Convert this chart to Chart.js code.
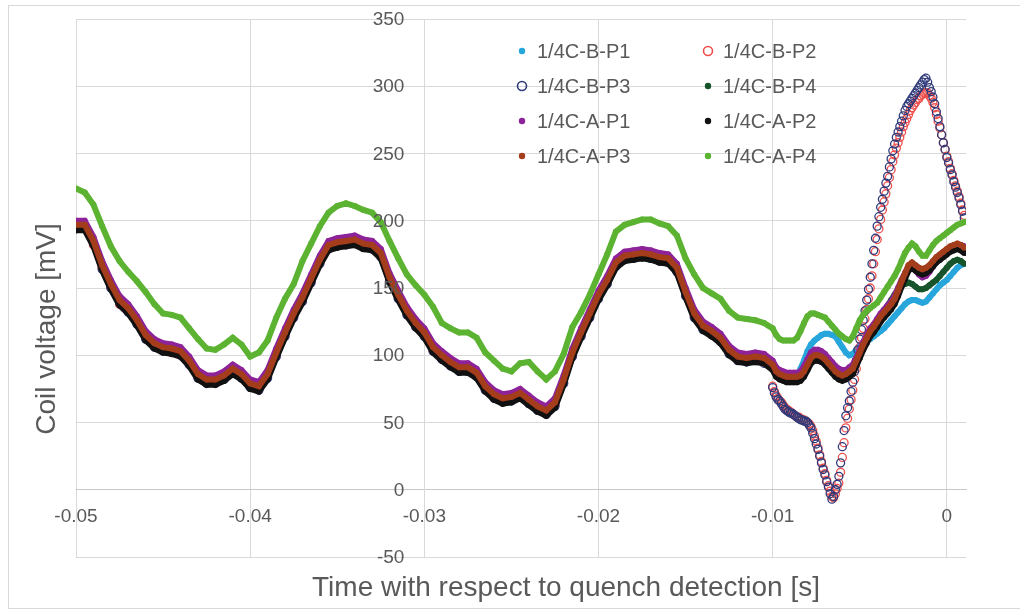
<!DOCTYPE html>
<html>
<head>
<meta charset="utf-8">
<title>Coil voltage</title>
<script src="https://cdn.jsdelivr.net/npm/chart.js@4.4.1/dist/chart.umd.min.js"></script>
<style>
  html, body { margin: 0; padding: 0; background: #fff; }
  #wrap { position: relative; width: 1020px; height: 609px; overflow: hidden; }
  #frame { position: absolute; left: 8px; top: 5px; width: 1030px; height: 602px; border: 1px solid #d9d9d9; }
  canvas { position: absolute; left: 0; top: 0; }
</style>
</head>
<body>
<div id="wrap"><div id="frame"></div><canvas id="coilChart" width="1020" height="609"></canvas></div>
<script>
// time base in ms (0.5 ms steps, then 0.2 ms near the quench)
const timeMs = [
  -50,-49.5,-49,-48.5,-48,-47.5,-47,-46.5,-46,-45.5,
  -45,-44.5,-44,-43.5,-43,-42.5,-42,-41.5,-41,-40.5,
  -40,-39.5,-39,-38.5,-38,-37.5,-37,-36.5,-36,-35.5,
  -35,-34.5,-34,-33.5,-33,-32.5,-32,-31.5,-31,-30.5,
  -30,-29.5,-29,-28.5,-28,-27.5,-27,-26.5,-26,-25.5,
  -25,-24.5,-24,-23.5,-23,-22.5,-22,-21.5,-21,-20.5,
  -20,-19.5,-19,-18.5,-18,-17.5,-17,-16.5,-16,-15.5,
  -15,-14.5,-14,-13.5,-13,-12.5,-12,-11.5,-11,-10.5,
  -10,
  -9.8,-9.6,-9.4,-9.2,-9,-8.8,-8.6,-8.4,-8.2,-8,
  -7.8,-7.6,-7.4,-7.2,-7,-6.8,-6.6,-6.4,-6.2,-6,
  -5.8,-5.6,-5.4,-5.2,-5,-4.8,-4.6,-4.4,-4.2,-4,
  -3.8,-3.6,-3.4,-3.2,-3,-2.8,-2.6,-2.4,-2.2,-2,
  -1.8,-1.6,-1.4,-1.2,-1,-0.8,-0.6,-0.4,-0.2,0,
  0.2,0.4,0.6,0.8,1
];

// time base in ms for the two hollow-marker probes (0.1 ms steps near the quench)
const timeMsRing = [
  -50,-49.5,-49,-48.5,-48,-47.5,-47,-46.5,-46,-45.5,
  -45,-44.5,-44,-43.5,-43,-42.5,-42,-41.5,-41,-40.5,
  -40,-39.5,-39,-38.5,-38,-37.5,-37,-36.5,-36,-35.5,
  -35,-34.5,-34,-33.5,-33,-32.5,-32,-31.5,-31,-30.5,
  -30,-29.5,-29,-28.5,-28,-27.5,-27,-26.5,-26,-25.5,
  -25,-24.5,-24,-23.5,-23,-22.5,-22,-21.5,-21,-20.5,
  -20,-19.5,-19,-18.5,-18,-17.5,-17,-16.5,-16,-15.5,
  -15,-14.5,-14,-13.5,-13,-12.5,-12,-11.5,-11,-10.5,
  -10,-9.9,-9.8,-9.7,-9.6,-9.5,-9.4,-9.3,-9.2,-9.1,
  -9,-8.9,-8.8,-8.7,-8.6,-8.5,-8.4,-8.3,-8.2,-8.1,
  -8,-7.9,-7.8,-7.7,-7.6,-7.5,-7.4,-7.3,-7.2,-7.1,
  -7,-6.9,-6.8,-6.7,-6.6,-6.5,-6.4,-6.3,-6.2,-6.1,
  -6,-5.9,-5.8,-5.7,-5.6,-5.5,-5.4,-5.3,-5.2,-5.1,
  -5,-4.9,-4.8,-4.7,-4.6,-4.5,-4.4,-4.3,-4.2,-4.1,
  -4,-3.9,-3.8,-3.7,-3.6,-3.5,-3.4,-3.3,-3.2,-3.1,
  -3,-2.9,-2.8,-2.7,-2.6,-2.5,-2.4,-2.3,-2.2,-2.1,
  -2,-1.9,-1.8,-1.7,-1.6,-1.5,-1.4,-1.3,-1.2,-1.1,
  -1,-0.9,-0.8,-0.7,-0.6,-0.5,-0.4,-0.3,-0.2,-0.1,
  0,0.1,0.2,0.3,0.4,0.5,0.6,0.7,0.8,0.9,
  1
];

const seriesNames = ['1/4C-B-P1', '1/4C-B-P2', '1/4C-B-P3', '1/4C-B-P4',
                     '1/4C-A-P1', '1/4C-A-P2', '1/4C-A-P3', '1/4C-A-P4'];

// coil voltages in mV
const bP1 = [
  195,195,183,165,151,139,133,124,113,107, 104,103,101,94,84,80,80,83,88,84,
  77,75,84,100,115,129,141,155,169,180, 182,183,184,181,180,174,156,143,131,122,
  115,104,98,93,89,89,85,75,69,66, 67,70,65,60,57,63,80,100,115,129,
  143,154,167,172,173,174,173,171,170,163, 145,129,120,116,111,102,97,96,97,96,
  91,
  86,84,83,82,82,82,83,90,96,103, 108,111,113,115,116,116,115,114,110,106,
  102,100,101,104,107,109,111,112,114,116, 118,120,123,126,129,132,135,138,140,141,
  141,140,139,140,143,146,149,152,154,156, 159,162,165,167,168
];
const bP2 = [
  195,194,182,165,151,138,133,124,113,107, 104,102,101,94,84,80,80,83,88,84,
  77,75,84,100,115,129,141,155,169,180, 182,183,184,181,180,174,156,143,131,122,
  115,104,98,93,89,89,85,75,69,66, 67,70,65,60,57,63,80,100,115,129,
  143,154,167,172,173,174,173,171,170,163, 145,129,120,116,111,102,97,96,97,95,
  77,73,70,68,66,65,63,61,60,59, 58,57,56,55,54,54,53,52,52,51,
  50,49,47,44,40,36,31,26,21,16, 12,7,3,-1,-5,-6,-3,1,5,13,
  24,35,46,53,60,67,74,82,90,98, 106,113,120,127,134,142,150,159,168,177,
  186,194,201,208,214,220,226,232,238,244, 249,254,258,262,266,270,273,276,279,282,
  284,286,288,290,291,293,294,295,295,295, 293,291,288,284,279,274,269,264,258,253,
  248,244,239,235,230,226,222,218,213,208, 204
];
const bP3 = [
  194,195,183,164,150,139,132,123,112,106, 103,102,100,93,83,79,79,82,87,83,
  76,74,83,99,114,128,140,154,168,179, 181,182,183,180,179,173,155,142,130,121,
  114,103,97,92,88,88,84,74,68,65, 66,69,64,59,56,62,79,99,114,128,
  142,153,166,171,172,173,172,170,169,162, 144,128,119,115,110,101,96,95,96,94,
  76,72,69,67,66,64,62,60,59,58, 57,57,56,55,54,53,52,52,51,51,
  50,48,46,42,38,34,30,25,20,15, 11,6,2,-3,-7,-5,0,4,10,20,
  32,44,55,61,66,73,80,88,96,104, 112,119,126,133,141,149,158,168,178,187,
  196,203,210,216,222,228,233,240,246,252, 257,262,266,270,274,278,282,285,287,289,
  291,293,295,297,299,301,303,305,306,303, 299,296,292,287,281,276,270,264,258,253,
  247,243,238,234,229,225,221,217,212,207, 202
];
const bP4 = [
  194,194,182,164,150,138,132,123,112,106, 103,102,100,93,83,79,79,82,87,83,
  76,74,83,99,114,128,140,154,168,179, 181,182,183,180,179,173,155,142,130,121,
  114,103,97,92,88,88,84,74,68,65, 66,69,64,59,56,62,79,99,114,128,
  142,153,166,171,172,173,172,170,169,162, 144,128,119,115,110,101,96,95,96,95,
  90,
  85,83,82,81,81,81,81,82,85,90, 95,97,97,96,94,91,88,85,83,82,
  83,85,87,93,99,105,110,115,118,121, 126,131,137,141,145,149,152,153,154,153,
  151,149,149,150,152,154,156,159,162,165, 168,170,171,170,168
];
const aP1 = [
  200,200,188,170,156,144,138,129,118,112, 109,108,106,99,89,85,85,88,93,89,
  82,80,89,105,120,134,146,160,174,185, 187,188,189,186,185,179,161,148,136,127,
  120,109,103,98,94,94,90,80,74,71, 72,75,70,65,62,68,85,105,120,134,
  148,159,172,177,178,179,178,176,175,168, 150,134,125,121,116,107,102,101,102,101,
  96,
  91,89,88,87,87,87,87,88,92,97, 102,104,104,103,101,98,95,92,90,89,
  89,91,93,98,104,110,115,120,123,127, 131,134,137,140,144,150,156,161,166,166,
  163,160,158,159,162,166,170,173,176,178, 180,181,182,182,181
];
const aP2 = [
  193,193,181,163,149,137,131,122,111,105, 102,101,99,92,82,78,78,81,86,82,
  75,73,82,98,113,127,139,153,167,178, 180,181,182,179,178,172,154,141,129,120,
  113,102,96,91,87,87,83,73,67,64, 65,68,63,58,55,61,78,98,113,127,
  141,152,165,170,171,172,171,169,168,161, 143,127,118,114,109,100,95,94,95,94,
  89,
  84,82,81,80,80,80,80,81,84,89, 94,96,96,95,93,90,87,84,82,81,
  82,84,86,92,98,104,109,114,117,121, 125,128,131,134,138,144,151,157,163,165,
  163,161,160,161,163,166,169,171,173,175, 177,178,179,178,176
];
const aP3 = [
  197,197,185,167,153,141,135,126,115,109, 106,105,103,96,86,82,82,85,90,86,
  79,77,86,102,117,131,143,157,171,182, 184,185,186,183,182,176,158,145,133,124,
  117,106,100,95,91,91,87,77,71,68, 69,72,67,62,59,65,82,102,117,131,
  145,156,169,174,175,176,175,173,172,165, 147,131,122,118,113,104,99,98,99,98,
  93,
  88,86,85,84,84,84,84,85,88,93, 98,100,100,99,97,94,91,88,86,85,
  86,88,90,96,102,108,113,118,121,125, 129,132,135,138,142,148,155,161,167,169,
  167,165,164,165,167,170,173,175,177,179, 181,182,183,182,180
];
const aP4 = [
  224,221,212,196,181,170,162,155,147,138, 131,130,128,120,112,105,104,108,113,108,
  99,102,111,128,142,153,170,183,196,206, 211,213,211,208,206,199,185,172,160,152,
  145,136,124,120,117,117,113,102,96,90, 88,94,95,88,82,88,101,121,132,145,
  160,175,192,197,199,201,201,198,196,189, 172,160,150,146,142,133,128,127,126,124,
  120,
  115,112,111,111,111,111,113,118,124,129, 131,131,130,129,128,125,122,119,116,114,
  112,111,114,120,126,130,133,135,137,139, 143,147,151,155,159,164,170,176,180,183,
  181,177,174,174,178,182,185,187,189,191, 193,195,197,198,199
];

const xTickValues = [-0.05, -0.04, -0.03, -0.02, -0.01, 0];
const xTickLabels = ['-0.05', '-0.04', '-0.03', '-0.02', '-0.01', '0'];
const yTickValues = [-50, 0, 50, 100, 150, 200, 250, 300, 350];
const yTickLabels = ['-50', '0', '50', '100', '150', '200', '250', '300', '350'];

const xTitle = 'Time with respect to quench detection [s]';
const yTitle = 'Coil voltage [mV]';

const colors = ['#27a6dc', '#ee4f4c', '#2f3a7a', '#17542c', '#8e2399', '#111111', '#a33d1b', '#5cb332'];
const hollow = [false, true, true, false, false, false, false, false];
const values = [bP1, bP2, bP3, bP4, aP1, aP2, aP3, aP4];

const FONT = '"Liberation Sans", Arial, sans-serif';
const GREY = '#595959';

const datasets = values.map((vals, i) => {
  const t = hollow[i] ? timeMsRing : timeMs;
  const ds = {
    label: seriesNames[i],
    data: vals.map((v, k) => ({x: t[k] / 1000, y: v})),
    order: values.length - i,
    borderColor: colors[i],
    pointStyle: 'circle'
  };
  if (hollow[i]) {
    ds.showLine = false;
    ds.backgroundColor = 'rgba(0,0,0,0)';
    ds.pointRadius = 4;
    ds.pointBorderWidth = 1.3;
  } else {
    ds.showLine = true;
    ds.borderWidth = 6;
    ds.backgroundColor = colors[i];
    ds.pointRadius = 3;
    ds.pointBorderWidth = 0;
  }
  return ds;
});

const extras = {
  id: 'extras',
  afterDraw(chart) {
    const ctx = chart.ctx;
    const xs = chart.scales.x;
    const ys = chart.scales.y;
    ctx.save();
    ctx.fillStyle = GREY;

    // y tick labels sit left of the crossing axis
    ctx.font = '19px ' + FONT;
    ctx.textAlign = 'right';
    ctx.textBaseline = 'middle';
    const axisX = xs.getPixelForValue(-0.03);
    yTickValues.forEach((v, i) => {
      ctx.fillText(yTickLabels[i], axisX - 20, ys.getPixelForValue(v) + 1);
    });

    ctx.textAlign = 'center';
    ctx.font = '28px ' + FONT;
    ctx.fillText(xTitle, 566, 588);
    ctx.save();
    ctx.translate(47, 329);
    ctx.rotate(-Math.PI / 2);
    ctx.fillText(yTitle, 0, 0);
    ctx.restore();

    // two-column legend inside the plot
    ctx.font = '20px ' + FONT;
    ctx.textAlign = 'left';
    seriesNames.forEach((name, i) => {
      const mx = i % 2 === 0 ? 522 : 708;
      const my = 51 + Math.floor(i / 2) * 35;
      ctx.beginPath();
      if (hollow[i]) {
        ctx.arc(mx, my, 4.5, 0, Math.PI * 2);
        ctx.lineWidth = 1.6;
        ctx.strokeStyle = colors[i];
        ctx.stroke();
      } else {
        ctx.arc(mx, my, 3.2, 0, Math.PI * 2);
        ctx.fillStyle = colors[i];
        ctx.fill();
      }
      ctx.fillStyle = GREY;
      ctx.fillText(name, mx + 15, my + 1);
    });
    ctx.restore();
  }
};

const ctx = document.getElementById('coilChart').getContext('2d');
const coilChart = new Chart(ctx, {
  type: 'scatter',
  data: {datasets: datasets},
  options: {
    responsive: false,
    animation: false,
    events: [],
    layout: {padding: {left: 76, right: 54, top: 19, bottom: 52}},
    plugins: {
      legend: {display: false},
      tooltip: {enabled: false}
    },
    elements: {line: {tension: 0}},
    scales: {
      x: {
        type: 'linear',
        position: {y: 0},
        min: -0.05,
        max: 0.0011,
        afterBuildTicks: (scale) => { scale.ticks = xTickValues.map(v => ({value: v})); },
        grid: {color: '#d9d9d9', drawTicks: false},
        border: {color: '#c8c8c8'},
        ticks: {
          color: GREY,
          font: {size: 19, family: FONT},
          padding: 16,
          maxRotation: 0,
          callback: (value) => xTickLabels[xTickValues.indexOf(value)]
        }
      },
      y: {
        type: 'linear',
        position: {x: -0.03},
        min: -50,
        max: 350,
        afterBuildTicks: (scale) => { scale.ticks = yTickValues.map(v => ({value: v})); },
        grid: {color: '#d9d9d9', drawTicks: false},
        border: {color: '#d9d9d9'},
        ticks: {display: false}
      }
    }
  },
  plugins: [extras]
});
</script>
</body>
</html>
